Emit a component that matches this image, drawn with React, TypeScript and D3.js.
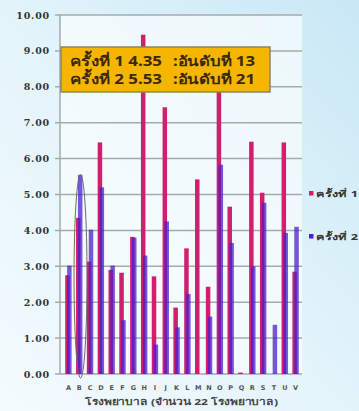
import React from "react";
import * as d3 from "d3";

const categories = ["A","B","C","D","E","F","G","H","I","J","K","L","M","N","O","P","Q","R","S","T","U","V"];
const round1 = [2.75,4.35,3.13,6.45,2.9,2.82,3.82,9.45,2.72,7.43,1.85,3.5,5.42,2.43,8.3,4.66,0.04,6.47,5.05,0,6.45,2.85];
const round2 = [3.02,5.55,4.02,5.2,3.02,1.5,3.8,3.3,0.82,4.25,1.3,2.23,0,1.6,5.83,3.65,0,3.0,4.77,1.37,3.93,4.1];
const yTicks = [0,1,2,3,4,5,6,7,8,9,10];
const seriesNames = ["ครั้งที่ 1","ครั้งที่ 2"];
const noteLines = [
  ["ครั้งที่ 1 4.35", ":อันดับที่ 13"],
  ["ครั้งที่ 2 5.53", ":อันดับที่ 21"],
];
const xTitle = "โรงพยาบาล (จำนวน 22 โรงพยาบาล)";

const W = 359, H = 411;
const PINK = "#d01f6e";
const BLUE = "#4a1fcf";
const THAI = "Tahoma, 'Noto Sans', 'DejaVu Sans', sans-serif";

export default function App() {
  const x = d3.scaleBand().domain(categories).range([63, 301]);
  const y = d3.scaleLinear().domain([0, 10]).range([374, 15]);
  const bw = 4.5;
  const highlight = categories.indexOf("B");
  const hx = (x("B") as number) + x.bandwidth() / 2 + 1.8;
  return (
    <svg width={W} height={H} style={{ position: "fixed", left: 0, top: 0 }}>
      <defs>
        <linearGradient id="bg" x1="0" y1="1" x2="1" y2="0">
          <stop offset="0" stopColor="#f4fbfe" />
          <stop offset="0.5" stopColor="#e3f4fb" />
          <stop offset="1" stopColor="#c8e8f5" />
        </linearGradient>
      </defs>
      <rect x={0} y={0} width={W} height={H} fill="url(#bg)" />
      <rect x={60} y={15} width={242} height={359} fill="#f7fcfe" opacity={0.75} />
      {yTicks.map((t) => (
        <g key={t}>
          <line x1={55} x2={302} y1={y(t)} y2={y(t)} stroke="#a3abad" strokeWidth={1.5} />
          <text x={50} y={y(t) + 3.5} textAnchor="end" fontFamily="'DejaVu Serif', serif" fontWeight="bold" fontSize={9.5} letterSpacing={0.8} fill="#333">
            {t.toFixed(2)}
          </text>
        </g>
      ))}
      <line x1={60} x2={60} y1={15} y2={374} stroke="#a3abad" strokeWidth={1.5} />
      {categories.map((c, i) => {
        const cx = (x(c) as number) + x.bandwidth() / 2;
        return (
          <g key={c}>
            <rect x={cx - 3.2} y={y(round1[i])} width={bw} height={y(0) - y(round1[i])} fill={PINK} />
            <rect x={cx - 1.3} y={y(round2[i])} width={bw} height={y(0) - y(round2[i])} fill={BLUE} opacity={0.75} />
            <text x={cx} y={390} textAnchor="middle" fontFamily="'DejaVu Sans', sans-serif" fontWeight="bold" fontSize={6.5} fill="#555">{c}</text>
          </g>
        );
      })}
      <ellipse cx={hx - 0.5} cy={(y(round2[highlight]) + y(0)) / 2 + 2} rx={6.5} ry={(y(0) - y(round2[highlight])) / 2 + 2} fill="none" stroke="#6a6a6a" strokeWidth={1} />
      <rect x={61} y={47} width={209} height={45} fill="#f6b600" stroke="#8b8468" strokeWidth={1.5} />
      {noteLines.map((ln, i) => (
        <g key={i} fontFamily={THAI} fontWeight="bold" fontSize={14} fill="#3a2a0a">
          <text x={70} y={66 + i * 18} textLength={92} lengthAdjust="spacingAndGlyphs">{ln[0]}</text>
          <text x={173} y={66 + i * 18} textLength={82} lengthAdjust="spacingAndGlyphs">{ln[1]}</text>
        </g>
      ))}
      {seriesNames.map((s, i) => (
        <g key={s}>
          <rect x={309} y={191 + i * 43} width={4.5} height={4.5} fill={i === 0 ? PINK : BLUE} />
          <text x={316} y={197 + i * 43} fontFamily={THAI} fontWeight="bold" fontSize={8.5} fill="#333" textLength={42} lengthAdjust="spacingAndGlyphs">{s}</text>
        </g>
      ))}
      <text x={85} y={405} fontFamily={THAI} fontWeight="bold" fontSize={9} fill="#444" textLength={193} lengthAdjust="spacingAndGlyphs">{xTitle}</text>
    </svg>
  );
}
